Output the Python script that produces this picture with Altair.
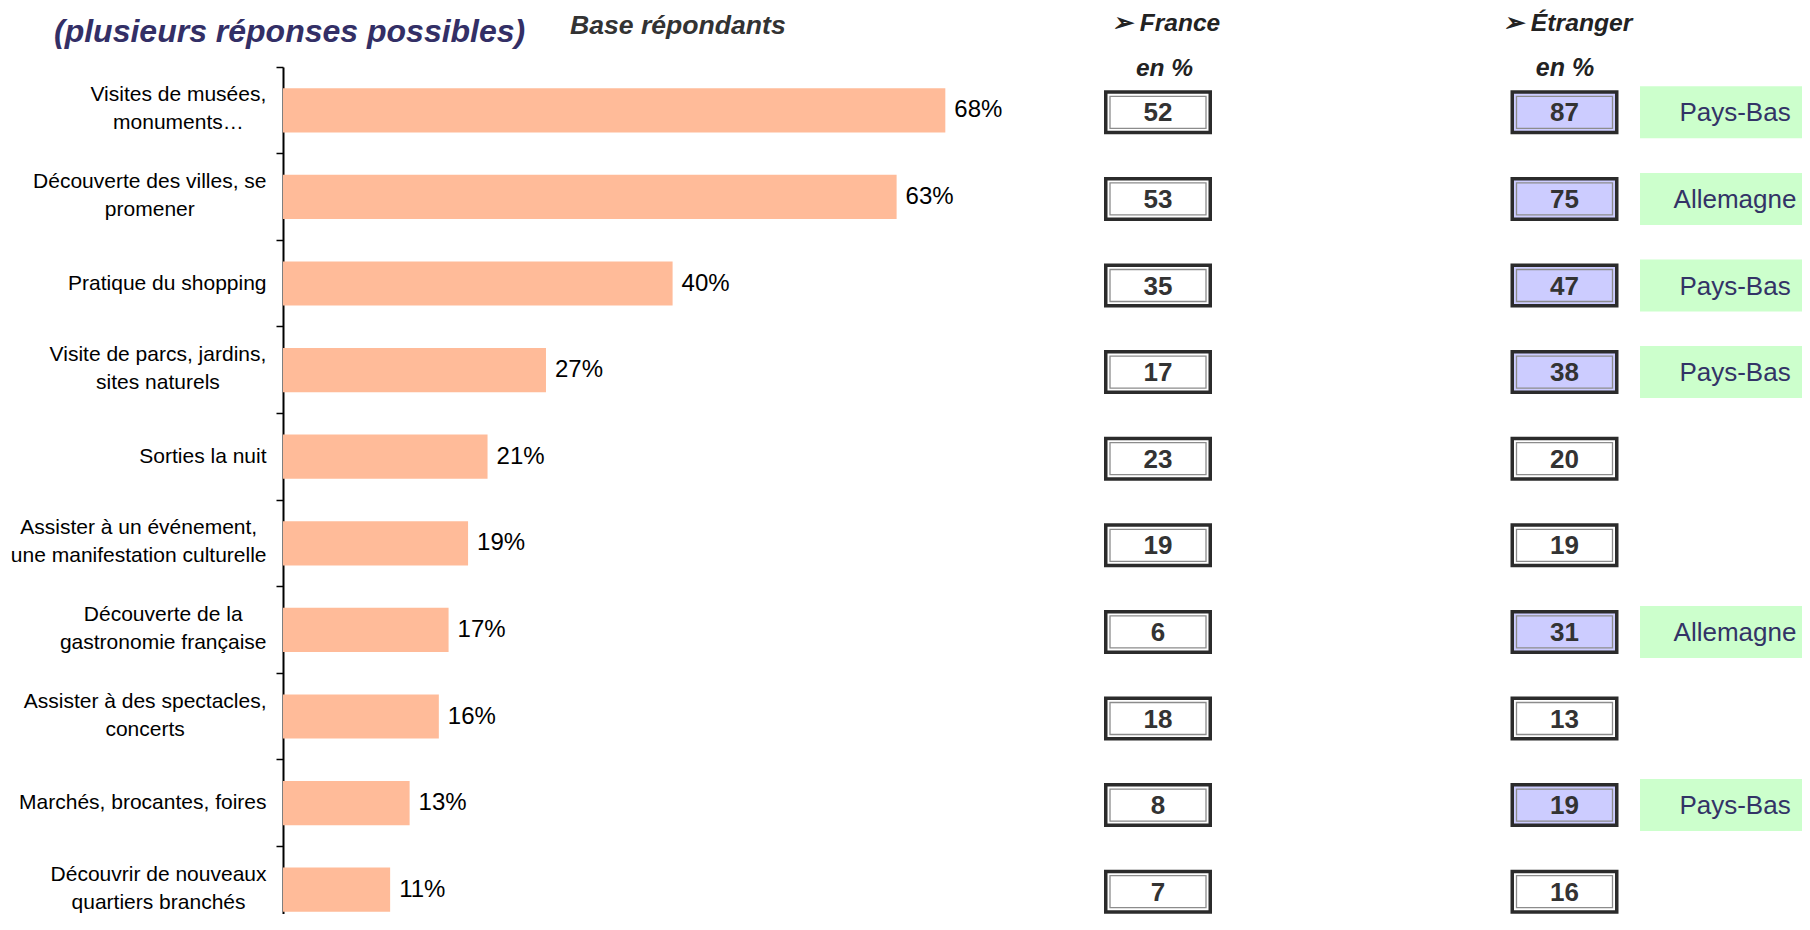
import altair as alt
import pandas as pd

# ---------------- data ----------------
categories = [
    "Visites de musées,\nmonuments…",
    "Découverte des villes, se\npromener",
    "Pratique du shopping",
    "Visite de parcs, jardins,\nsites naturels",
    "Sorties la nuit",
    "Assister à un événement,\nune manifestation culturelle",
    "Découverte de la\ngastronomie française",
    "Assister à des spectacles,\nconcerts",
    "Marchés, brocantes, foires",
    "Découvrir de nouveaux\nquartiers branchés",
]
pct = [68, 63, 40, 27, 21, 19, 17, 16, 13, 11]
france = [52, 53, 35, 17, 23, 19, 6, 18, 8, 7]
etranger = [87, 75, 47, 38, 20, 19, 31, 13, 19, 16]
top_country = ["Pays-Bas", "Allemagne", "Pays-Bas", "Pays-Bas", "", "", "Allemagne", "", "Pays-Bas", ""]

title_text = "(plusieurs réponses possibles)"
base_text = "Base répondants"
col_heads = ["➢ France", "➢ Étranger"]
unit_text = "en %"

# ---------------- layout constants ----------------
FONT = "Liberation Sans"
W, H = 1519, 847
Y_RANGE = 866
PX_PER_UNIT = 9.74
X_MAX = W / PX_PER_UNIT
LABEL_SIZE = 21
LABEL_RIGHT = -16.5  # right edge of category labels, px from axis

X_FR = 875
X_ET = 1281.5
X_GREEN = 1446
X_GREEN_TXT = 1452
BOX_DY = 2

# Arial / Liberation Sans advance widths (1/1000 em) for label centering
_W = {
    " ": 278, ",": 278, ".": 278, "-": 333, "…": 1000,
    "a": 556, "b": 556, "c": 500, "d": 556, "e": 556, "f": 278, "g": 556, "h": 556,
    "i": 222, "j": 222, "k": 500, "l": 222, "m": 833, "n": 556, "o": 556, "p": 556,
    "q": 556, "r": 333, "s": 500, "t": 278, "u": 556, "v": 500, "w": 722, "x": 500,
    "y": 500, "z": 500, "é": 556, "è": 556, "à": 556, "ç": 500,
    "A": 667, "B": 667, "C": 722, "D": 722, "E": 667, "F": 611, "G": 778, "H": 722,
    "I": 278, "J": 500, "K": 667, "L": 556, "M": 833, "N": 722, "O": 778, "P": 667,
    "Q": 778, "R": 722, "S": 667, "T": 611, "U": 722, "V": 667, "W": 944, "X": 667,
    "Y": 667, "Z": 611,
}


def text_width(s, size):
    return sum(_W.get(ch, 556) for ch in s) * size / 1000.0


df = pd.DataFrame({"cat": categories, "pct": pct, "fr": france, "et": etranger, "pays": top_country})
df["pct_label"] = df["pct"].astype(str) + "%"
df["hl"] = df["pays"] != ""
df["nlines"] = [c.count("\n") + 1 for c in categories]
df["lx"] = [
    (LABEL_RIGHT - max(text_width(line, LABEL_SIZE) for line in c.split("\n")) / 2) / PX_PER_UNIT
    for c in categories
]


def rect_path(w, h):
    r = h / w
    return f"M-1,{-r:.4f}L1,{-r:.4f}L1,{r:.4f}L-1,{r:.4f}Z"


y_enc = alt.Y(
    "cat:N",
    sort=categories,
    scale=alt.Scale(range=[0, Y_RANGE], paddingInner=0, paddingOuter=0),
    axis=alt.Axis(
        title=None,
        orient="left",
        bandPosition=0,
        domainColor="#000000",
        domainWidth=2,
        tickColor="#000000",
        tickWidth=1.5,
        tickSize=7,
        labels=False,
    ),
)

x_scale = alt.Scale(domain=[0, X_MAX], nice=False, zero=True)
x_enc = alt.X("pct:Q", scale=x_scale, axis=None)

base = alt.Chart(df)

bars = base.mark_bar(color="#ffbb99", height={"band": 0.51}).encode(x=x_enc, y=y_enc)

vals = base.mark_text(align="left", baseline="middle", dx=9, font=FONT, fontSize=24, color="#000000").encode(
    x=x_enc, y=y_enc, text="pct_label:N"
)


def cat_labels(n, dy):
    return base.transform_filter(f"datum.nlines == {n}").mark_text(
        align="center", baseline="middle", lineBreak="\n", lineHeight=28, dy=dy,
        font=FONT, fontSize=LABEL_SIZE, color="#000000",
    ).encode(x=alt.X("lx:Q", scale=x_scale, axis=None), y=y_enc, text="cat:N")


labels1 = cat_labels(1, 0)
labels2 = cat_labels(2, -15)


def box_layers(xpix, field, fill_enc):
    outer = base.mark_point(
        shape=rect_path(104.5, 40.5), size=104.5 ** 2, filled=True, opacity=1,
        stroke="#2b2b2b", strokeWidth=3.5, yOffset=BOX_DY,
    ).encode(x=alt.value(xpix), y=y_enc, fill=fill_enc)
    inner = base.mark_point(
        shape=rect_path(96, 32), size=96 ** 2, filled=False, opacity=1,
        stroke="#8c8c8c", strokeWidth=1.3, yOffset=BOX_DY,
    ).encode(x=alt.value(xpix), y=y_enc)
    txt = base.mark_text(
        align="center", baseline="middle", font=FONT, fontSize=26, fontWeight="bold",
        color="#333333", dy=1 + BOX_DY,
    ).encode(x=alt.value(xpix), y=y_enc, text=f"{field}:Q")
    return [outer, inner, txt]


fr_layers = box_layers(X_FR, "fr", alt.value("#ffffff"))
et_layers = box_layers(
    X_ET, "et", alt.when(alt.datum.hl).then(alt.value("#ccccff")).otherwise(alt.value("#ffffff"))
)

green = base.transform_filter("datum.pays != ''").mark_point(
    shape=rect_path(178, 52), size=178 ** 2, filled=True, opacity=1, fill="#ccffcc",
    strokeWidth=0, yOffset=BOX_DY,
).encode(x=alt.value(X_GREEN), y=y_enc)

green_txt = base.transform_filter("datum.pays != ''").mark_text(
    align="center", baseline="middle", font=FONT, fontSize=26, color="#333366", dy=1 + BOX_DY
).encode(x=alt.value(X_GREEN_TXT), y=y_enc, text="pays:N")


def header(text, x, y, size, color, align="left"):
    return alt.Chart(pd.DataFrame({"t": [text]})).mark_text(
        align=align, baseline="alphabetic", font=FONT, fontSize=size, fontWeight="bold",
        fontStyle="italic", color=color,
    ).encode(x=alt.value(x), y=alt.value(y), text="t:N")


headers = [
    header(title_text, -229, -25.5, 32, "#332f66"),
    header(base_text, 287, -33, 26.6, "#333333"),
    header(col_heads[0], 829, -36, 24.5, "#222222"),
    header(unit_text, 881.5, 8.5, 24.5, "#222222", align="center"),
    header(col_heads[1], 1220, -36, 24.7, "#222222"),
    header(unit_text, 1282, 8.5, 25, "#222222", align="center"),
]

chart = (
    alt.layer(bars, vals, labels1, labels2, *fr_layers, *et_layers, green, green_txt, *headers)
    .properties(
        width=W,
        height=H,
        padding={"left": 275, "top": 59, "right": 0, "bottom": 0},
        autosize=alt.AutoSizeParams(type="none"),
        background="#ffffff",
    )
    .configure_view(stroke="transparent")
)

chart.save("out.html", embed_options={"renderer": "svg", "actions": False})
